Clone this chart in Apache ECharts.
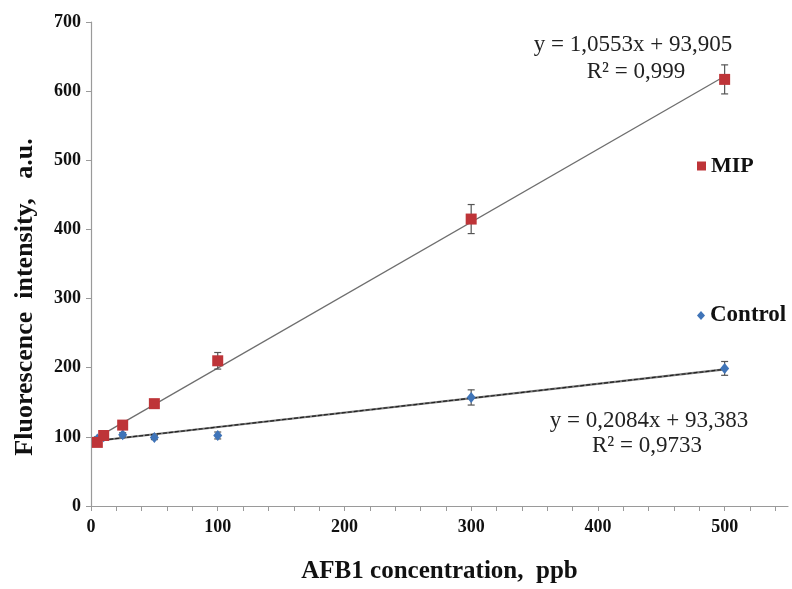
<!DOCTYPE html>
<html>
<head>
<meta charset="utf-8">
<script src="https://cdn.jsdelivr.net/npm/echarts@6/dist/echarts.min.js"></script>
<style>html,body{margin:0;padding:0;background:#fff}#c{width:792px;height:589px}</style>
</head>
<body>
<div id="c"></div>
<script>
// Data
const concentrations = [5, 10, 25, 50, 100, 300, 500];
const mipValues = [92, 102, 117, 148, 210, 415, 617];
const mipErrors = [3, 3, 4, 6, 12, 21, 21];
const controlValues = [97, 100, 103, 99, 102, 157, 199];
const controlErrors = [3, 3, 3, 3, 5, 11, 10];
const mipTrend = [[5, 99.2], [500, 621.6]];
const controlTrend = [[5, 94.4], [500, 197.6]];
const xTickLabels = [0, 100, 200, 300, 400, 500];
const mipEquation = ['y = 1,0553x + 93,905', 'R² = 0,999'];
const controlEquation = ['y = 0,2084x + 93,383', 'R² = 0,9733'];
const yAxisTitle = 'Fluorescence  intensity,   a.u.';
const xAxisTitle = 'AFB1 concentration,  ppb';

const RED = '#BE3438';
const BLUE = '#3F74B8';
const SERIF = '"Liberation Serif", "DejaVu Serif", serif';

function pairs(xs, ys) { return xs.map((x, i) => [x, ys[i]]); }
function errData(xs, ys, es) { return xs.map((x, i) => [x, ys[i] - es[i], ys[i] + es[i]]); }

function errRender() {
  return function (params, api) {
    const x = api.value(0);
    const lo = api.coord([x, api.value(1)]);
    const hi = api.coord([x, api.value(2)]);
    const w = 3.5;
    const style = { stroke: '#555', lineWidth: 1.2 };
    return {
      type: 'group',
      children: [
        { type: 'line', shape: { x1: lo[0], y1: lo[1], x2: hi[0], y2: hi[1] }, style },
        { type: 'line', shape: { x1: lo[0] - w, y1: lo[1], x2: lo[0] + w, y2: lo[1] }, style },
        { type: 'line', shape: { x1: hi[0] - w, y1: hi[1], x2: hi[0] + w, y2: hi[1] }, style }
      ]
    };
  };
}

const chart = echarts.init(document.getElementById('c'), null, { renderer: 'canvas' });
chart.setOption({
  backgroundColor: '#fff',
  animation: false,
  grid: { left: 91, right: 4, top: 22, bottom: 71 },
  legend: [
    { data: [{ name: 'MIP', icon: 'rect' }], left: 692, top: 150, itemWidth: 9, itemHeight: 9, itemGap: 0,
      textStyle: { fontFamily: SERIF, fontWeight: 'bold', fontSize: 22, color: '#111' } },
    { data: [{ name: 'Control', icon: 'diamond' }], left: 692, top: 299, itemWidth: 8, itemHeight: 9, itemGap: 0,
      textStyle: { fontFamily: SERIF, fontWeight: 'bold', fontSize: 23, color: '#111' } }
  ],
  xAxis: {
    type: 'value', min: 0, max: 550, interval: 20,
    name: xAxisTitle, nameLocation: 'middle', nameGap: 53,
    nameTextStyle: { fontFamily: SERIF, fontWeight: 'bold', fontSize: 25, color: '#111' },
    axisLine: { lineStyle: { color: '#9a9a9a', width: 1.2 } },
    axisTick: { show: true, length: 5, lineStyle: { color: '#9a9a9a' } },
    splitLine: { show: false },
    axisLabel: {
      margin: 12, fontFamily: SERIF, fontWeight: 'bold', fontSize: 18, color: '#111',
      showMaxLabel: false,
      formatter: v => (xTickLabels.indexOf(v) >= 0 ? String(v) : '')
    }
  },
  yAxis: {
    type: 'value', min: 0, max: 700, interval: 100,
    axisLine: { show: true, lineStyle: { color: '#9a9a9a', width: 1.2 } },
    axisTick: { show: true, length: 5, lineStyle: { color: '#9a9a9a' } },
    splitLine: { show: false },
    axisLabel: { margin: 10, fontFamily: SERIF, fontWeight: 'bold', fontSize: 18, color: '#111' }
  },
  series: [
    { name: 'MIP trend', type: 'line', data: mipTrend, showSymbol: false, silent: true,
      lineStyle: { color: '#6e6e6e', width: 1.3 }, z: 1 },
    { name: 'Control trend', type: 'line', data: controlTrend, showSymbol: false, silent: true,
      lineStyle: { color: '#777', width: 2.2 }, z: 1 },
    { name: 'Control trend dash', type: 'line', data: controlTrend, showSymbol: false, silent: true,
      lineStyle: { color: '#222', width: 1.2, type: [4, 2] }, z: 1 },
    { name: 'MIP err', type: 'custom', data: errData(concentrations, mipValues, mipErrors),
      renderItem: errRender(), z: 2, silent: true },
    { name: 'Control err', type: 'custom', data: errData(concentrations, controlValues, controlErrors),
      renderItem: errRender(), z: 2, silent: true },
    { name: 'Control', type: 'scatter', data: pairs(concentrations, controlValues), symbol: 'diamond',
      symbolSize: [9, 11], itemStyle: { color: BLUE, opacity: 1 }, z: 3 },
    { name: 'MIP', type: 'scatter', data: pairs(concentrations, mipValues), symbol: 'rect',
      symbolSize: 11, itemStyle: { color: RED, opacity: 1 }, z: 4 }
  ],
  graphic: [
    { type: 'text', x: 25, y: 297, rotation: Math.PI / 2,
      style: { text: yAxisTitle, font: 'bold 26px ' + SERIF, fill: '#111', align: 'center', verticalAlign: 'middle' } },
    { type: 'text', x: 633, y: 45, style: { text: mipEquation[0], font: '23px ' + SERIF, fill: '#222', align: 'center', verticalAlign: 'middle' } },
    { type: 'text', x: 636, y: 72, style: { text: mipEquation[1], font: '23px ' + SERIF, fill: '#222', align: 'center', verticalAlign: 'middle' } },
    { type: 'text', x: 649, y: 421, style: { text: controlEquation[0], font: '23px ' + SERIF, fill: '#222', align: 'center', verticalAlign: 'middle' } },
    { type: 'text', x: 647, y: 446, style: { text: controlEquation[1], font: '23px ' + SERIF, fill: '#222', align: 'center', verticalAlign: 'middle' } }
  ]
});
</script>
</body>
</html>
